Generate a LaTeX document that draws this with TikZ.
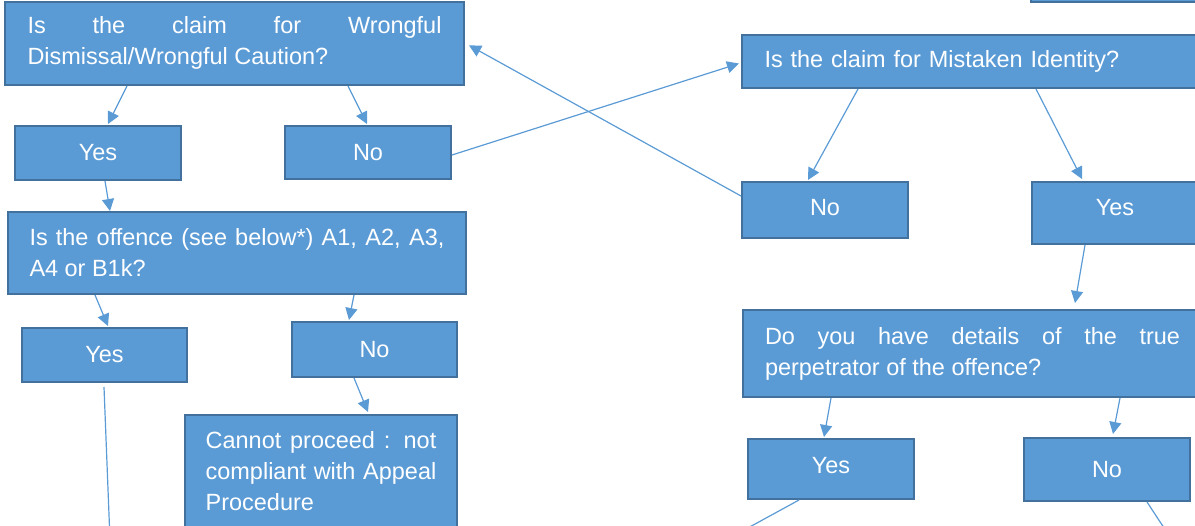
\documentclass[tikz,border=0pt]{standalone}
\usepackage{fontspec}
\setmainfont{Liberation Sans}
\usetikzlibrary{arrows.meta,calc}
\definecolor{boxfill}{HTML}{5B9BD5}
\definecolor{boxline}{HTML}{41719C}
\begin{document}
\begin{tikzpicture}[
    x=0.75pt, y=-0.75pt,
    box/.style={rectangle, draw=boxline, fill=boxfill, line width=1.5pt, text=white, inner sep=0pt, font=\fontsize{17.6}{23.3}\selectfont},
    qbox/.style={box, align=justify},
    link/.style={draw=boxfill, line width=0.9pt, -{Triangle[length=9pt, width=9pt]}},
    tail/.style={draw=boxfill, line width=0.9pt},
]
\useasboundingbox (0,0) rectangle (1195,525);
\clip (0,0) rectangle (1195,525);

% Левая ветка: первый вопрос
\node[qbox, minimum width=344.25pt, minimum height=62.6pt, text width=310.5pt] (claimwd) at (234.5,43.3)
    {Is the claim for Wrongful\linebreak Dismissal/Wrongful Caution?};
\node[box, minimum width=124.5pt, minimum height=40.5pt] (yes1) at (98,153) {Yes};
\node[box, minimum width=124.5pt, minimum height=39.75pt] (no1) at (368,152.5) {No};

% Левая ветка: вопрос о проступке
\node[qbox, minimum width=343.5pt, minimum height=61.5pt, text width=311.25pt] (offence) at (237,253)
    {Is the offence (see below*) A1, A2, A3,\linebreak A4 or B1k?};
\node[box, minimum width=123.75pt, minimum height=40.5pt] (yes2) at (104.5,355) {Yes};
\node[box, minimum width=123.75pt, minimum height=41.25pt] (no2) at (374.5,349.5) {No};
\node[qbox, minimum width=204pt, minimum height=84pt, text width=173pt] (cannot) at (321,471)
    {Cannot proceed : not\linebreak compliant with Appeal\linebreak Procedure};

% Правая ветка: ошибочная идентификация
\node[box, minimum width=126.75pt, minimum height=47.25pt] (prev) at (1115.5,-30) {};
\node[box, align=left, minimum width=344.25pt, minimum height=39.75pt, text width=310.5pt] (claimmi) at (971.5,61.5)
    {Is the claim for Mistaken Identity?};
\node[box, minimum width=124.5pt, minimum height=42pt, text depth=4.5pt] (no3) at (825,210) {No};
\node[box, minimum width=124.5pt, minimum height=46.5pt, text depth=9pt] (yes3) at (1115,213) {Yes};

% Правая ветка: данные о нарушителе
\node[qbox, minimum width=344.25pt, minimum height=65.25pt, text width=311.25pt] (details) at (972.5,353.5)
    {Do you have details of the true\linebreak perpetrator of the offence?};
\node[box, minimum width=124.5pt, minimum height=45pt, text depth=6pt] (yes4) at (831,469) {Yes};
\node[box, minimum width=124.5pt, minimum height=47.25pt] (no4) at (1107,469.5) {No};

% Свободные концы линий
\coordinate (yes2end) at (110,540);
\coordinate (yes4end) at (735,535);
\coordinate (no4end) at (1170,537);

% Рёбра левой ветки
\draw[link] ($(claimwd.south)+(-107.5,0)$) -- ($(yes1.north)+(10,-1)$);
\draw[link] ($(claimwd.south)+(113.5,0)$) -- ($(no1.north)+(-1,-1)$);
\draw[link] ($(yes1.south)+(7,0)$) -- ($(offence.north)+(-127,0)$);
\draw[link] ($(offence.south)+(-142,0)$) -- ($(yes2.north)+(3.5,-1)$);
\draw[link] ($(offence.south)+(117,0)$) -- ($(no2.north)+(-25.5,-1)$);
\draw[link] ($(no2.south)+(-20.5,0)$) -- ($(cannot.north)+(47,-2)$);
\draw[tail] ($(yes2.south)+(-0.5,4)$) -- (yes2end);

% Рёбра между ветками
\draw[link] ($(no1.east)+(0,2.5)$) -- ($(claimmi.west)+(-2,2)$);
\draw[link] ($(no3.west)+(0,-14)$) -- ($(claimwd.east)+(4,2)$);

% Рёбра правой ветки
\draw[link] ($(claimmi.south)+(-113.5,0)$) -- ($(no3.north)+(-17,-1)$);
\draw[link] ($(claimmi.south)+(64.5,0)$) -- ($(yes3.north)+(-33,-2)$);
\draw[link] ($(yes3.south)+(-30,0)$) -- ($(details.north)+(102.5,-6)$);
\draw[link] ($(details.south)+(-141.5,0)$) -- ($(yes4.north)+(-7,-1)$);
\draw[link] ($(details.south)+(147.5,0)$) -- ($(no4.north)+(6,-3)$);
\draw[tail] ($(yes4.south)+(-32,0)$) -- (yes4end);
\draw[tail] ($(no4.south)+(40,0)$) -- (no4end);

\end{tikzpicture}
\end{document}
